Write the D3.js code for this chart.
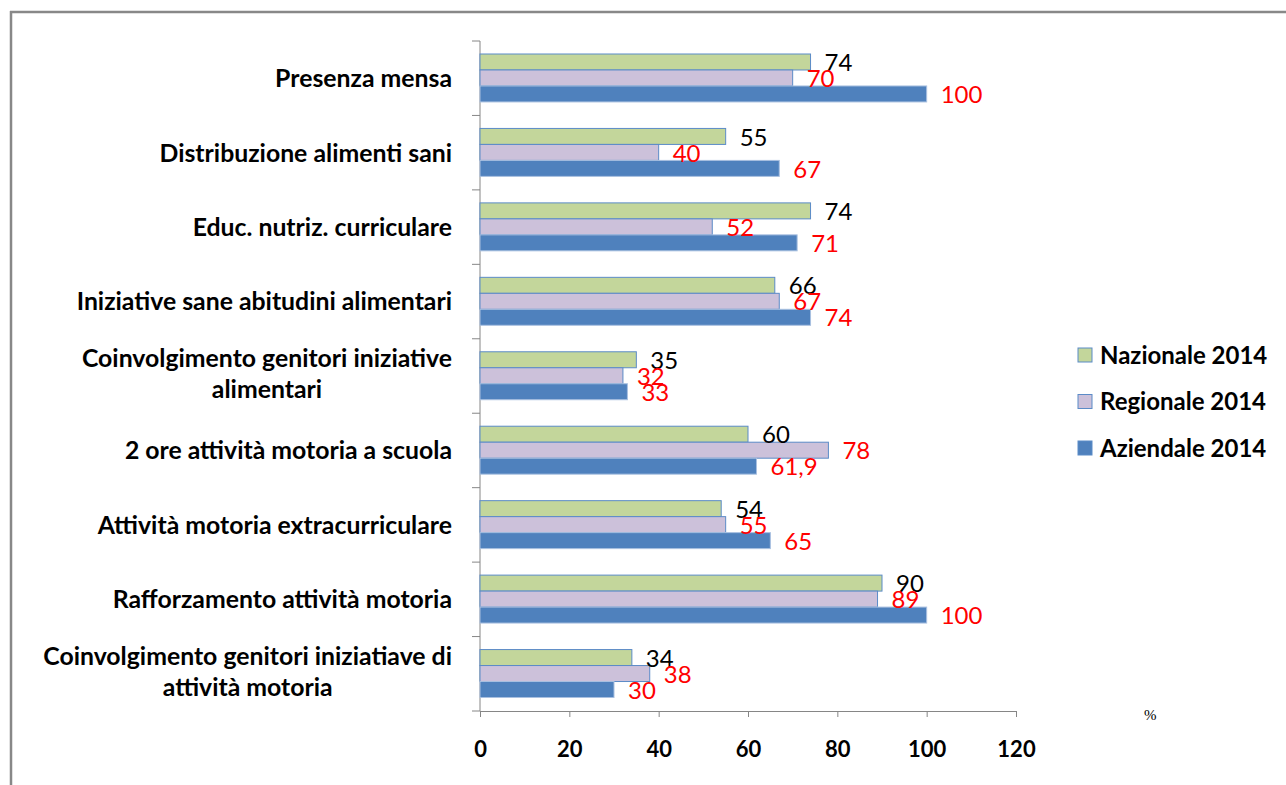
<!DOCTYPE html>
<html>
<head>
<meta charset="utf-8">
<title>Promozione salute scuole 2014</title>
<script src="https://cdnjs.cloudflare.com/ajax/libs/d3/7.8.5/d3.min.js"></script>
<style>
body { margin: 0; background: #fff; }
.cat { font-family: Lato, sans-serif; font-weight: bold; font-size: 24.8px; fill: #000; }
.tick text { font-family: Lato, sans-serif; font-weight: bold; font-size: 22px; fill: #000; }
.val { font-family: Lato, sans-serif; font-size: 24px; }
.leg { font-family: Lato, sans-serif; font-weight: bold; font-size: 24px; fill: #000; }
</style>
</head>
<body>
<div id="chart"></div>
<script>
// categories top to bottom, each may wrap on 2 lines
var categories = [
  ["Presenza mensa"],
  ["Distribuzione alimenti sani"],
  ["Educ. nutriz. curriculare"],
  ["Iniziative sane abitudini alimentari"],
  ["Coinvolgimento genitori iniziative", "alimentari"],
  ["2 ore attività motoria a scuola"],
  ["Attività motoria extracurriculare"],
  ["Rafforzamento attività motoria"],
  ["Coinvolgimento genitori iniziatiave di", "attività motoria"]
];
var seriesNames = ["Nazionale 2014", "Regionale 2014", "Aziendale 2014"];
var nazionale = [74, 55, 74, 66, 35, 60, 54, 90, 34];
var regionale = [70, 40, 52, 67, 32, 78, 55, 89, 38];
var aziendale = [100, 67, 71, 74, 33, 61.9, 65, 100, 30];
var xTicks = [0, 20, 40, 60, 80, 100, 120];

var fills = ["#C3D69B", "#CCC1DA", "#4F81BD"];
var strokes = ["#5B8BC7", "#5B8BC7", "#A9C0E0"];
var labelColors = ["#000", "#FF0000", "#FF0000"];

var W = 1286, H = 785;
var svg = d3.select("#chart").append("svg").attr("width", W).attr("height", H);

// frame
svg.append("line").attr("x1", 10).attr("x2", W).attr("y1", 12).attr("y2", 12)
  .attr("stroke", "#888").attr("stroke-width", 2.5);
svg.append("line").attr("x1", 11).attr("x2", 11).attr("y1", 11).attr("y2", H)
  .attr("stroke", "#888").attr("stroke-width", 2.5);

var x = d3.scaleLinear().domain([0, 120]).range([480, 1016]);
var idx = categories.map((c, i) => i);
var y = d3.scaleBand().domain(idx).range([41, 711]);
var ys = d3.scaleBand().domain([0, 1, 2]).range([13, y.bandwidth() - 13.5]);

var rows = idx.map(i => [nazionale[i], regionale[i], aziendale[i]]);

// x axis
var xAxis = svg.append("g")
  .attr("transform", "translate(0,711)")
  .call(d3.axisBottom(x).tickValues(xTicks).tickSize(6).tickPadding(24).tickSizeOuter(0));
xAxis.selectAll("path, line").attr("stroke", "#868686");

// y axis line and ticks between categories
svg.append("line").attr("x1", 480).attr("x2", 480).attr("y1", 41).attr("y2", 711)
  .attr("stroke", "#868686");
svg.selectAll(".ytick").data(idx.concat([categories.length]))
  .enter().append("line")
  .attr("x1", 472).attr("x2", 480)
  .attr("y1", d => d < categories.length ? y(d) : y.range()[1])
  .attr("y2", d => d < categories.length ? y(d) : y.range()[1])
  .attr("stroke", "#868686");

// bars
var groups = svg.selectAll(".grp").data(rows).enter().append("g")
  .attr("transform", (d, i) => "translate(0," + y(i) + ")");

groups.selectAll("rect").data(d => d).enter().append("rect")
  .attr("x", x(0))
  .attr("y", (d, j) => ys(j))
  .attr("width", d => x(d) - x(0))
  .attr("height", ys.bandwidth())
  .attr("fill", (d, j) => fills[j])
  .attr("stroke", (d, j) => strokes[j])
  .attr("stroke-width", 1);

groups.selectAll("text").data(d => d).enter().append("text")
  .attr("class", "val")
  .attr("x", d => x(d) + 14)
  .attr("y", (d, j) => ys(j) + ys.bandwidth() / 2)
  .attr("dy", "0.38em")
  .attr("fill", (d, j) => labelColors[j])
  .text(d => String(d).replace(".", ","));

// category labels
categories.forEach(function (lines, i) {
  var cy = y(i) + y.bandwidth() / 2;
  if (lines.length === 1) {
    svg.append("text").attr("class", "cat")
      .attr("x", 452).attr("y", cy).attr("dy", "0.36em")
      .attr("text-anchor", "end").text(lines[0]);
  } else {
    var t1 = svg.append("text").attr("class", "cat")
      .attr("x", 452).attr("y", cy - 18).attr("dy", "0.36em")
      .attr("text-anchor", "end").text(lines[0]);
    var w = t1.node().getComputedTextLength();
    svg.append("text").attr("class", "cat")
      .attr("x", 452 - w / 2).attr("y", cy + 13).attr("dy", "0.36em")
      .attr("text-anchor", "middle").text(lines[1]);
  }
});

// legend
var leg = svg.selectAll(".legitem").data(seriesNames).enter().append("g")
  .attr("transform", (d, i) => "translate(1078," + (348 + i * 46.5) + ")");
leg.append("rect").attr("width", 14).attr("height", 14)
  .attr("fill", (d, i) => fills[i]).attr("stroke", "#5B8BC7");
leg.append("text").attr("class", "leg").attr("x", 22).attr("y", 7).attr("dy", "0.36em")
  .text(d => d);

// unit
svg.append("text").attr("x", 1144).attr("y", 720)
  .attr("font-family", "Liberation Serif, serif").attr("font-size", 15)
  .text("%");
</script>
</body>
</html>
